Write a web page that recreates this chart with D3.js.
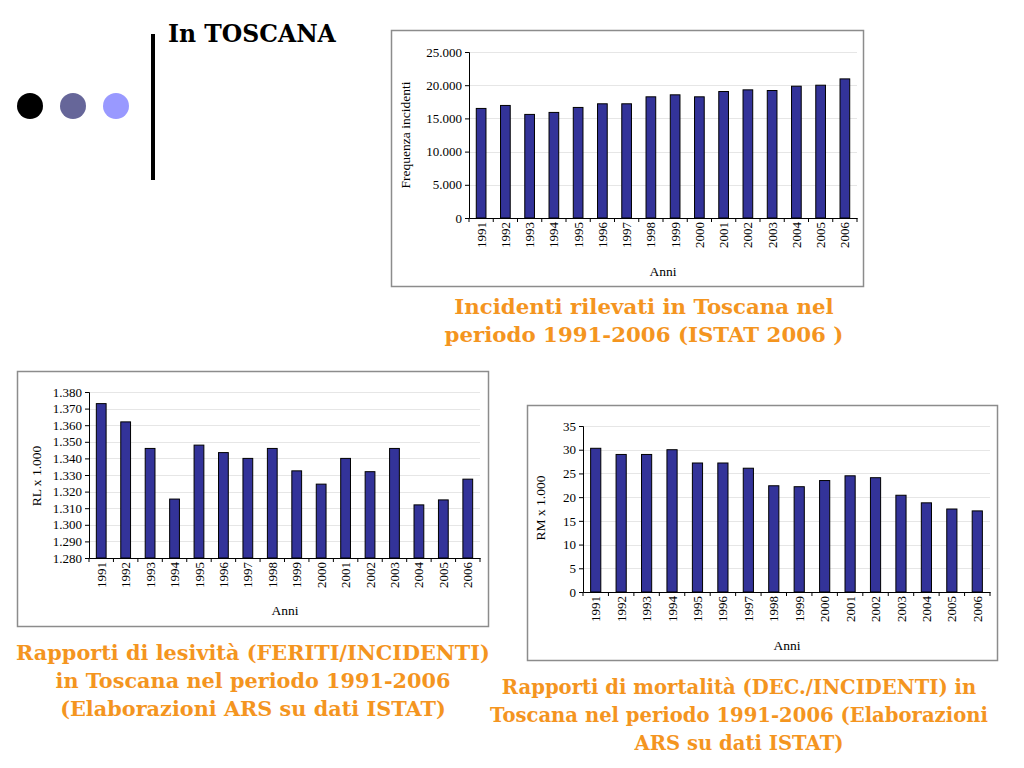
<!DOCTYPE html>
<html>
<head>
<meta charset="utf-8">
<script src="https://cdn.jsdelivr.net/npm/d3@7"></script>
<style>
  html, body { margin: 0; padding: 0; background: #fff; }
  svg { display: block; }
  .cap { font-family: "DejaVu Serif", serif; font-weight: bold; }
  .ttl { font-family: "DejaVu Serif", serif; font-weight: bold; }
  .axt { font-family: "Liberation Serif", "Times New Roman", serif; }
</style>
</head>
<body>
<svg id="chart" width="1024" height="768"></svg>
<script>
// ---------- DATA ----------
const years = ["1991","1992","1993","1994","1995","1996","1997","1998","1999","2000","2001","2002","2003","2004","2005","2006"];

const incidenti = [16500, 16950, 15600, 15900, 16650, 17200, 17200, 18250, 18550, 18250, 19050, 19300, 19200, 19850, 20000, 20950];
const incidentiTicks = [0, 5000, 10000, 15000, 20000, 25000];

const lesivita = [1373, 1362, 1346, 1315.5, 1348, 1343.5, 1340, 1346, 1332.5, 1324.5, 1340, 1332, 1346, 1312, 1315, 1327.5];
const lesivitaTicks = [1280, 1290, 1300, 1310, 1320, 1330, 1340, 1350, 1360, 1370, 1380];

const mortalita = [30.3, 29.0, 29.0, 30.0, 27.2, 27.2, 26.1, 22.4, 22.2, 23.5, 24.5, 24.1, 20.4, 18.8, 17.5, 17.1];
const mortalitaTicks = [0, 5, 10, 15, 20, 25, 30, 35];

const dotColors = ["#000000", "#666699", "#9999ff"];

// ---------- DRAW ----------
const svg = d3.select("#chart");
const itFmt = d3.formatLocale({decimal: ",", thousands: ".", grouping: [3], currency: ["€", ""]}).format(",d");

// decorative header
svg.selectAll("circle.dot").data(dotColors).join("circle")
  .attr("class", "dot")
  .attr("cx", (d, i) => 30 + i * 43).attr("cy", 106).attr("r", 13)
  .attr("fill", d => d);
svg.append("rect").attr("x", 151).attr("y", 34).attr("width", 4).attr("height", 146).attr("fill", "#000");
svg.append("text").attr("class", "ttl").attr("x", 168).attr("y", 42)
  .attr("font-size", 23.5).attr("fill", "#000").text("In TOSCANA");

function barChart(cfg) {
  const g = svg.append("g");
  // frame
  g.append("rect").attr("x", cfg.frame[0] + 0.5).attr("y", cfg.frame[1] + 0.5)
    .attr("width", cfg.frame[2] - cfg.frame[0]).attr("height", cfg.frame[3] - cfg.frame[1])
    .attr("fill", "#fff").attr("stroke", "#8c8c8c").attr("stroke-width", 1.5);

  const x = d3.scaleBand().domain(years).range([cfg.plot[0], cfg.plot[2]]).paddingInner(0.6).paddingOuter(0.3);
  const xb = d3.scaleBand().domain(years).range([cfg.plot[0], cfg.plot[2]]);
  const y = d3.scaleLinear().domain([cfg.ticks[0], cfg.ticks[cfg.ticks.length - 1]]).range([cfg.plot[3], cfg.plot[1]]);

  // gridlines
  g.selectAll("line.grid").data(cfg.ticks.slice(1)).join("line")
    .attr("x1", cfg.plot[0]).attr("x2", cfg.plot[2])
    .attr("y1", d => Math.round(y(d)) + 0.5).attr("y2", d => Math.round(y(d)) + 0.5)
    .attr("stroke", "#e6e6e6").attr("stroke-width", 1);

  // bars
  g.selectAll("rect.bar").data(cfg.values).join("rect")
    .attr("x", (d, i) => x(years[i])).attr("width", x.bandwidth())
    .attr("y", d => y(d)).attr("height", d => y(cfg.ticks[0]) - y(d))
    .attr("fill", "#333399").attr("stroke", "#000").attr("stroke-width", 1);

  // y axis
  const ya = g.append("g").attr("transform", `translate(${cfg.plot[0]},0)`)
    .call(d3.axisLeft(y).tickValues(cfg.ticks).tickFormat(itFmt).tickSize(4).tickPadding(3));
  ya.attr("font-family", null);
  ya.select(".domain").attr("stroke", "#000");
  ya.selectAll("text").attr("class", "axt").attr("font-size", 13).attr("fill", "#000");

  // x axis
  const xa = g.append("g").attr("transform", `translate(0,${cfg.plot[3]})`)
    .call(d3.axisBottom(xb).tickSize(0).tickSizeOuter(0));
  xa.attr("font-family", null);
  xa.select(".domain").attr("stroke", "#000");
  xa.selectAll("text")
    .attr("class", "axt").attr("font-size", 13).attr("fill", "#000")
    .attr("transform", "rotate(-90)").attr("text-anchor", "end")
    .attr("x", -4).attr("y", 0).attr("dy", "0.35em");
  // boundary ticks
  const bounds = years.map(d => xb(d)).concat([cfg.plot[2]]);
  g.selectAll("line.xtick").data(bounds).join("line")
    .attr("x1", d => d).attr("x2", d => d)
    .attr("y1", cfg.plot[3]).attr("y2", cfg.plot[3] + 4)
    .attr("stroke", "#000");

  // axis titles
  g.append("text").attr("class", "axt").attr("transform", `translate(${cfg.ytitle[0]},${cfg.ytitle[1]}) rotate(-90)`)
    .attr("text-anchor", "middle").attr("dy", "0.35em")
    .attr("font-size", 13.5).attr("fill", "#000").text(cfg.ylabel);
  g.append("text").attr("class", "axt").attr("x", cfg.xtitle[0]).attr("y", cfg.xtitle[1])
    .attr("text-anchor", "middle")
    .attr("font-size", 13.5).attr("fill", "#000").text("Anni");

  // caption
  const cap = g.append("text").attr("class", "cap").attr("text-anchor", "middle")
    .attr("font-size", cfg.capSize).attr("fill", "#f4951f");
  cap.selectAll("tspan").data(cfg.caption).join("tspan")
    .attr("x", cfg.capPos[0]).attr("y", (d, i) => cfg.capPos[1] + i * 28).text(d => d);
}

barChart({
  frame: [391, 30, 863, 286], plot: [469, 52, 857, 218],
  values: incidenti, ticks: incidentiTicks, ylabel: "Frequenza incidenti",
  ytitle: [405, 135], xtitle: [663, 276],
  caption: ["Incidenti rilevati in Toscana nel", "periodo 1991-2006 (ISTAT 2006 )"],
  capPos: [644, 314], capSize: 21.3
});

barChart({
  frame: [17, 371, 488, 626], plot: [89, 392, 480, 558],
  values: lesivita, ticks: lesivitaTicks, ylabel: "RL x 1.000",
  ytitle: [36, 476], xtitle: [285, 615],
  caption: ["Rapporti di lesività (FERITI/INCIDENTI)", "in Toscana nel periodo 1991-2006", "(Elaborazioni ARS su dati ISTAT)"],
  capPos: [253, 660], capSize: 20.8
});

barChart({
  frame: [527, 405, 997, 660], plot: [583, 426, 990, 592],
  values: mortalita, ticks: mortalitaTicks, ylabel: "RM x 1.000",
  ytitle: [540, 508], xtitle: [787, 650],
  caption: ["Rapporti di mortalità (DEC./INCIDENTI) in", "Toscana nel periodo 1991-2006 (Elaborazioni", "ARS su dati ISTAT)"],
  capPos: [739, 694], capSize: 19.6
});
</script>
</body>
</html>
